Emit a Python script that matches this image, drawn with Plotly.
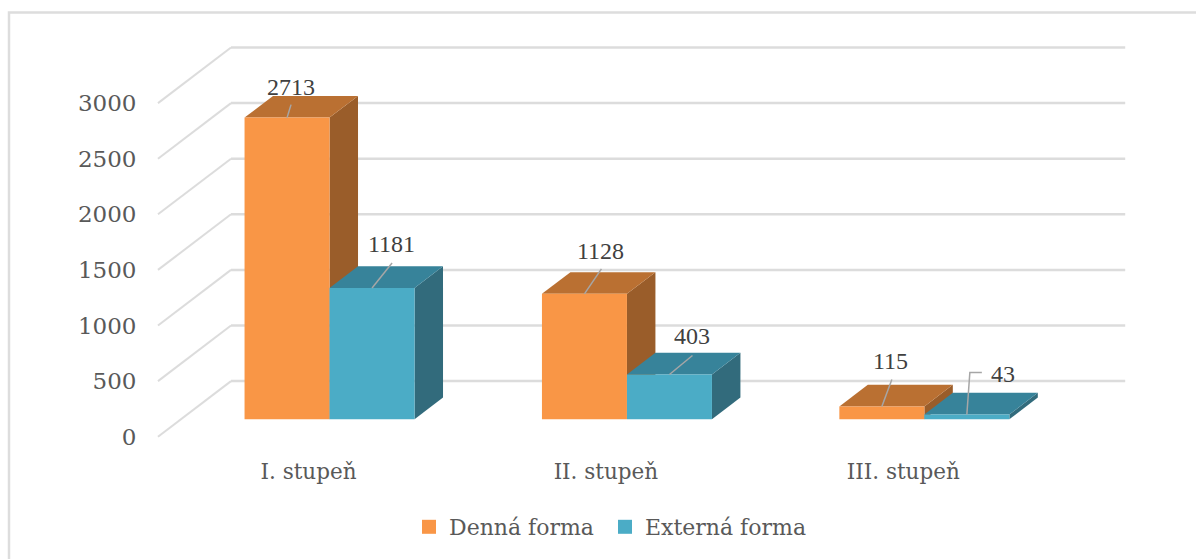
import plotly.graph_objects as go

# --- Data ---
categories = ["I. stupeň", "II. stupeň", "III. stupeň"]
denna_forma = [2713, 1128, 115]
externa_forma = [1181, 403, 43]
y_ticks = [0, 500, 1000, 1500, 2000, 2500, 3000]

# --- Leader ends and label centres, in px from the front top centre of each bar ---
leader_ends = [[(4, -13), (17, -25), (10, -27)], [(20, -25), (23, -19), None]]
label_offsets = [[(4, -31), (16, -43), (9, -46)], [(19, -44), (23, -38), (36, -41)]]

# --- Colours ---
colors = [
    dict(front="#F99646", top="#BA7032", side="#9A5D2A"),
    dict(front="#4BACC6", top="#37839A", side="#326B7C"),
]
GRID = "#DCDCDC"
TICK_TEXT = "#595959"
LABEL_TEXT = "#404040"

# --- Scales: the oblique view of Excel's 3-D column chart ---
W, H = 1196, 559
PX_PER_BAND = 297.4
PX_PER_VALUE = 0.1112
X0_PX, Y0_PX = 158, 436.7        # front corner of the floor
DEPTH_X = 73 / PX_PER_BAND       # wall depth, x units
DEPTH_Y = 500                    # wall depth, value units
BAR_W = 85 / PX_PER_BAND
GAP = (1 - 2 * BAR_W) / 2
Z0, Z1 = 0.313, 0.703            # bar depth as a share of the floor


def px_dx(p):
    return p / PX_PER_BAND


def px_dy(p):
    return -p / PX_PER_VALUE


def project(x, v, z):
    return x + z * DEPTH_X, v + z * DEPTH_Y


def poly(points, color):
    xs, ys = zip(*[project(*p) for p in points])
    return go.Scatter(
        x=list(xs) + [xs[0]], y=list(ys) + [ys[0]],
        mode="none", fill="toself", fillcolor=color,
        showlegend=False, hoverinfo="skip",
    )


def legend_at(x_px):
    return dict(orientation="h", x=x_px / W, xanchor="left", y=1 - 527 / H, yanchor="middle",
                font=dict(size=22, color=TICK_TEXT), bgcolor="rgba(0,0,0,0)",
                itemclick=False, itemdoubleclick=False)


fig = go.Figure()

# Walls and gridlines
diag_x, diag_y, back_x, back_y = [], [], [], []
for t in y_ticks:
    x1, y1 = project(0, t, 0)
    x2, y2 = project(0, t, 1)
    x3, y3 = project(3 + px_dx(2), t, 1)
    diag_x += [x1, x2, None]
    diag_y += [y1, y2, None]
    back_x += [x2, x3, None]
    back_y += [y2, y3, None]
fig.add_trace(go.Scatter(x=diag_x, y=diag_y, mode="lines", line=dict(color=GRID, width=2),
                         showlegend=False, hoverinfo="skip"))
fig.add_trace(go.Scatter(x=back_x, y=back_y, mode="lines", line=dict(color=GRID, width=2.5),
                         showlegend=False, hoverinfo="skip"))

# Bars, back to front
series = [denna_forma, externa_forma]
for i in range(len(categories)):
    for s, values in enumerate(series):
        v = values[i]
        c = colors[s]
        left = i + GAP + s * BAR_W
        right = left + BAR_W
        fig.add_trace(poly([(right, 0, Z0), (right, 0, Z1), (right, v, Z1), (right, v, Z0)], c["side"]))
        fig.add_trace(poly([(left, v, Z0), (right, v, Z0), (right, v, Z1), (left, v, Z1)], c["top"]))
        fig.add_trace(poly([(left, 0, Z0), (right, 0, Z0), (right, v, Z0), (left, v, Z0)], c["front"]))

# Leader lines and value labels
annotations = []
for s, values in enumerate(series):
    for i, v in enumerate(values):
        fx, fy = project(i + GAP + (s + 0.5) * BAR_W, v, Z0)
        end = leader_ends[s][i]
        if end is None:  # the small bar has an elbow leader
            path = [(fx, fy), (fx + px_dx(3), fy + px_dy(-42)), (fx + px_dx(15), fy + px_dy(-42))]
        else:
            path = [(fx, fy), (fx + px_dx(end[0]), fy + px_dy(end[1]))]
        fig.add_trace(go.Scatter(x=[p[0] for p in path], y=[p[1] for p in path], mode="lines",
                                 line=dict(color="#A6A6A6", width=1.5),
                                 showlegend=False, hoverinfo="skip"))
        off = label_offsets[s][i]
        annotations.append(dict(
            x=fx + px_dx(off[0]), y=fy + px_dy(off[1]), xref="x", yref="y", text=str(v),
            showarrow=False, xanchor="center", yanchor="middle",
            font=dict(family="Liberation Serif", size=24, color=LABEL_TEXT),
        ))

# Legend entries, one legend each so the gap between them can be set
for name, c, leg in zip(["Denná forma", "Externá forma"], colors, ["legend", "legend2"]):
    fig.add_trace(go.Scatter(x=[None], y=[None], mode="markers", name=name, legend=leg,
                             showlegend=True,
                             marker=dict(symbol="square", size=14, color=c["front"])))

fig.update_layout(
    width=W, height=H,
    margin=dict(l=0, r=0, t=0, b=0),
    paper_bgcolor="white", plot_bgcolor="white",
    font=dict(family="DejaVu Serif", size=21.5, color=TICK_TEXT),
    annotations=annotations,
    # only the left and top edges of the chart frame are inside the picture
    shapes=[dict(type="rect", xref="paper", yref="paper",
                 x0=9 / W, x1=1.05, y0=-0.05, y1=1 - 12.5 / H,
                 line=dict(color="#DDDDDD", width=2.5), layer="below")],
    legend=legend_at(409),
    legend2=legend_at(605),
    xaxis=dict(
        range=[-X0_PX / PX_PER_BAND, (W - X0_PX) / PX_PER_BAND],
        tickvals=[i + 0.506 for i in range(len(categories))], ticktext=categories,
        anchor="free", position=1 - 456 / H,
        showgrid=False, zeroline=False, showline=False, ticks="",
    ),
    yaxis=dict(
        range=[(Y0_PX - H) / PX_PER_VALUE, Y0_PX / PX_PER_VALUE],
        tickvals=y_ticks, anchor="free", position=136.5 / W, tickfont=dict(size=23),
        showgrid=False, zeroline=False, showline=False, ticks="",
    ),
)

fig.write_html("out.html", config={"displayModeBar": False},
               post_script="document.body.style.margin='0';document.body.style.overflow='hidden';")
